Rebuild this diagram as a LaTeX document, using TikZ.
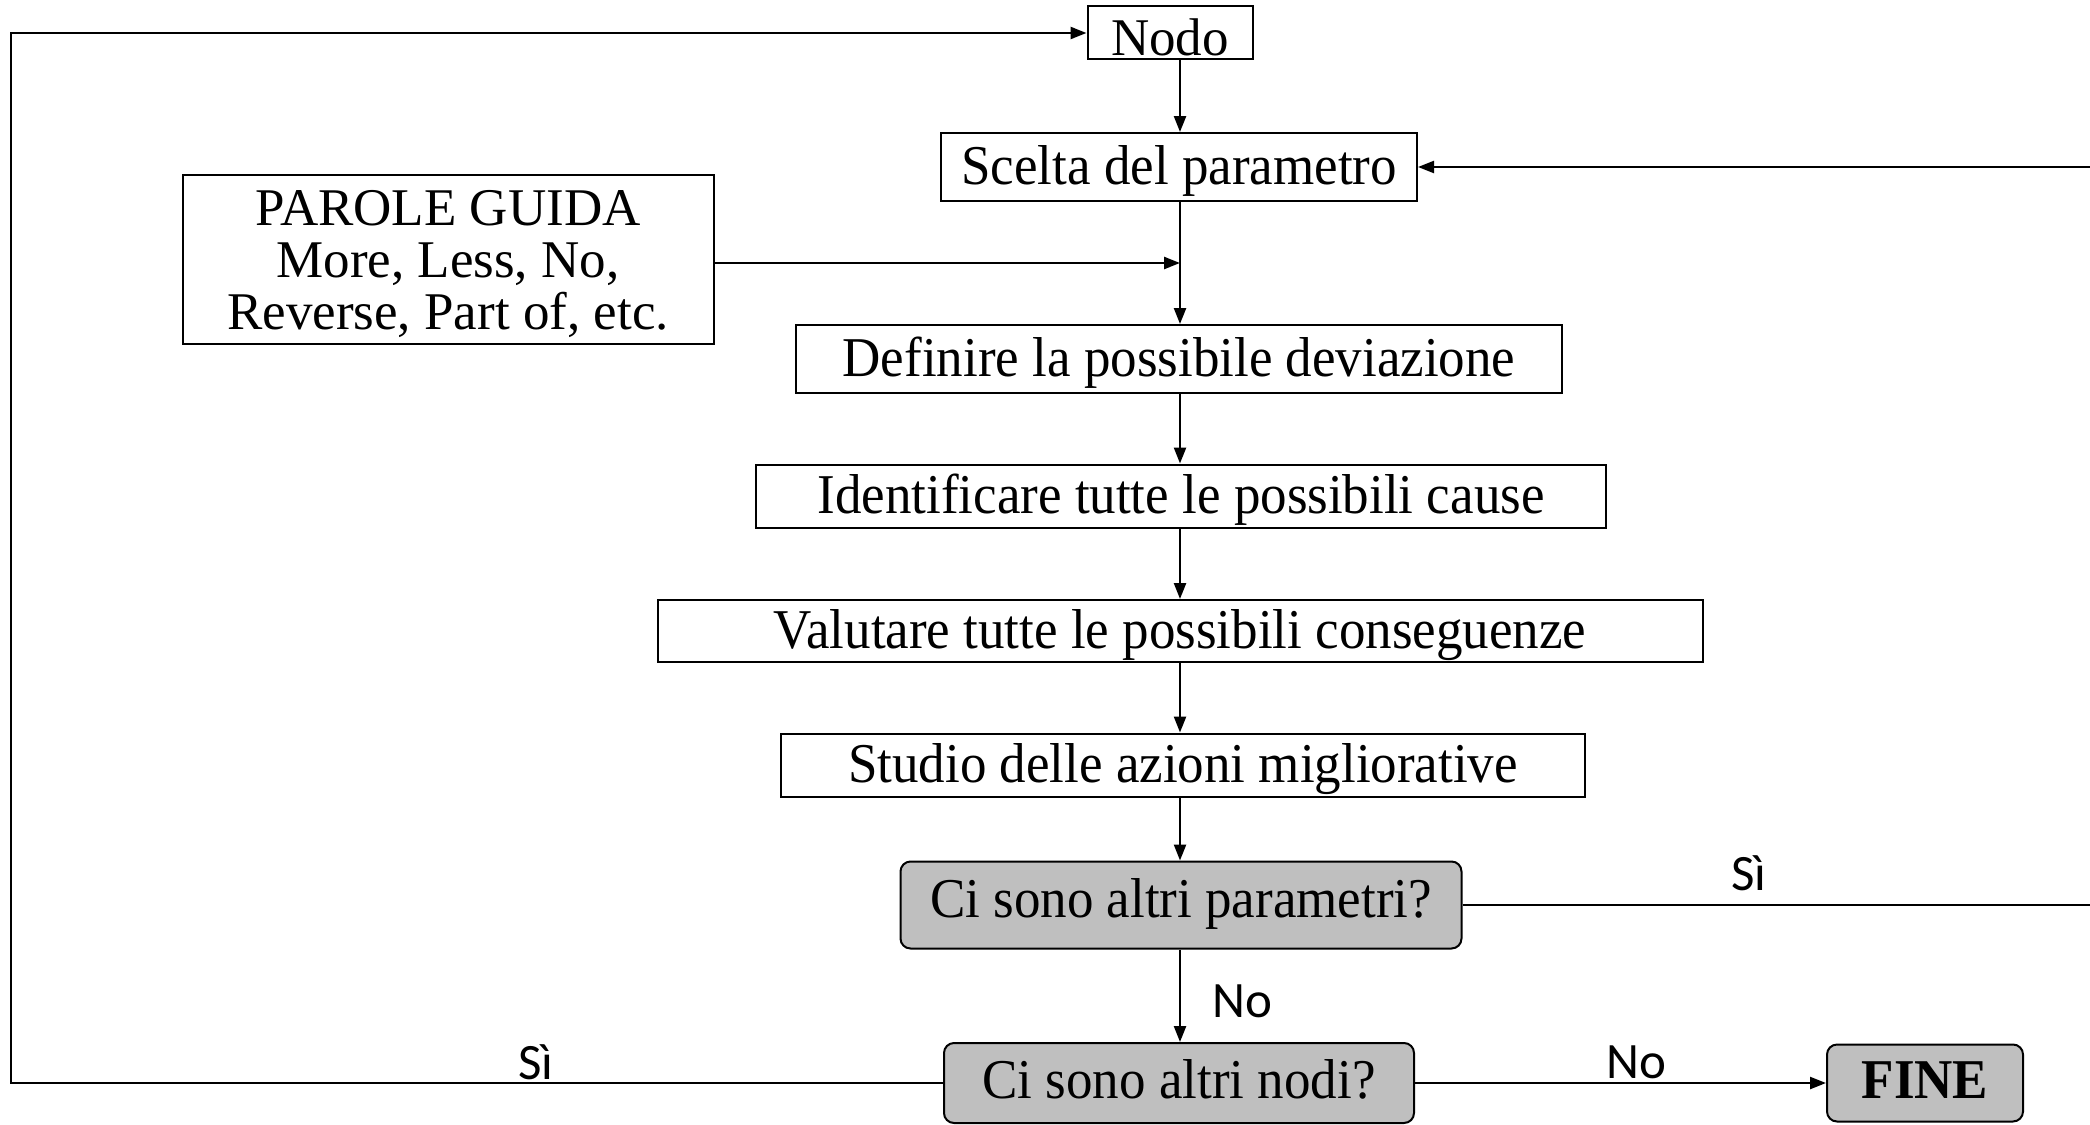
\documentclass[tikz,border=0pt]{standalone}
\usepackage{fontspec}
\usepackage{graphicx}
\setmainfont{Liberation Serif}
\newfontfamily\lblfont{Carlito}
\usetikzlibrary{arrows.meta}
\newcommand\vstr[1]{\scalebox{1}[1.06]{#1}}
\tikzset{
  basebox/.style={draw, line width=2pt, inner sep=0pt, font=\fontsize{53}{52}\selectfont, align=center},
  box/.style={basebox, text height=48pt, text depth=13pt},
  nodobox/.style={basebox, text height=45pt, text depth=0pt},
  qbox/.style={basebox, fill=gray!50, rounded corners=10pt, text height=38pt, text depth=13pt},
  lowq/.style={text height=44pt, text depth=13pt},
  conn/.style={line width=2.4pt},
  arr/.style={conn, -{Triangle[length=16pt,width=12pt]}},
  lbl/.style={font=\lblfont\fontsize{51}{52}\selectfont, inner sep=0pt},
}
\begin{document}
\begin{tikzpicture}[x=1pt,y=-1pt]
\useasboundingbox (0,0) rectangle (2090,1124);
\node[nodobox, minimum width=165pt, minimum height=53pt] (nodo) at (1170,33) {Nodo};
\node[box, minimum width=476pt, minimum height=68pt] (scelta) at (1179,167) {\vstr{Scelta del parametro}};
\node[basebox, minimum width=531pt, minimum height=169pt] (parole) at (448,259) {\rule{0pt}{46pt}PAROLE GUIDA\\More, Less, No,\\Reverse, Part of, etc.};
\node[box, minimum width=766pt, minimum height=68pt] (defin) at (1179,359) {\vstr{Definire la possibile deviazione}};
\node[box, minimum width=850pt, minimum height=63pt] (ident) at (1181,496) {\vstr{Identificare tutte le possibili cause}};
\node[box, minimum width=1045pt, minimum height=62pt] (valut) at (1180,631) {\vstr{Valutare tutte le possibili conseguenze}};
\node[box, minimum width=804pt, minimum height=63pt] (studio) at (1183,765) {\vstr{Studio delle azioni migliorative}};
\node[qbox, minimum width=561pt, minimum height=87pt] (par) at (1181,905) {\vstr{Ci sono altri parametri?}};
\node[qbox, lowq, minimum width=470pt, minimum height=80pt] (nodi) at (1179,1083) {\vstr{Ci sono altri nodi?}};
\node[qbox, lowq, minimum width=196pt, minimum height=77pt, font=\fontsize{53}{52}\selectfont\bfseries] (fine) at (1925,1083) {\vstr{FINE}};

\coordinate (ax) at (1180,0);
\coordinate (lx) at (11,0);
\coordinate (rx) at (2090,0);

\draw[arr] (nodo.south -| ax) -- (scelta.north -| ax);
\draw[arr] (scelta.south -| ax) -- (defin.north -| ax);
\draw[arr] ([yshift=-4pt]parole.east) -- ([yshift=-4pt]parole.east -| ax);
\draw[arr] (defin.south -| ax) -- (ident.north -| ax);
\draw[arr] (ident.south -| ax) -- (valut.north -| ax);
\draw[arr] (valut.south -| ax) -- (studio.north -| ax);
\draw[arr] (studio.south -| ax) -- (par.north -| ax);
\draw[arr] (par.south -| ax) -- (nodi.north -| ax);
\draw[arr] (nodi.east) -- (fine.west);
\draw[arr] (nodi.west) -- (nodi.west -| lx) |- (nodo.west);
\draw[conn] (par.east) -- (par.east -| rx);
\draw[arr] (scelta.east -| rx) -- (scelta.east);

\node[lbl] (l1) at (1749,873) {Sì};
\node[lbl] (l2) at (1242,1001) {No};
\node[lbl] (l3) at (536,1062) {Sì};
\node[lbl] (l4) at (1636,1062) {No};
\end{tikzpicture}
\end{document}
